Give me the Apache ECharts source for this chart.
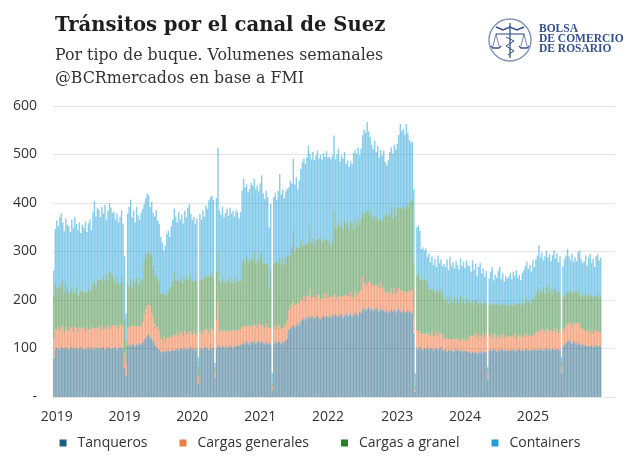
<!DOCTYPE html>
<html>
<head>
<meta charset="utf-8">
<title>Tránsitos por el canal de Suez</title>
<script src="https://cdn.jsdelivr.net/npm/echarts@6/dist/echarts.min.js"></script>
<style>
	html, body { margin: 0; padding: 0; background: #fff; }
	#chart { width: 640px; height: 462px; }
</style>
</head>
<body>
<div id="chart"></div>
<script>
// Tanqueros (volumen semanal)
var tanqueros = [
	80, 98, 102, 100, 97, 104, 101, 99, 103, 100,
	98, 101, 104, 99, 100, 102, 97, 101, 103, 99,
	100, 98, 102, 100, 104, 99, 101, 97, 103, 100,
	102, 99, 101, 104, 98, 100, 103, 101, 99, 102,
	100, 104, 98, 101, 103, 99, 102, 60, 45,
	105, 108, 104, 110, 107, 103, 109, 106, 111, 108, 112,
	118, 122, 126, 130, 124, 120, 116, 108, 104, 100, 98,
	94, 92, 96, 93, 95, 97, 94, 96, 98, 95,
	97, 100, 96, 99, 101, 98, 102, 97, 100, 99, 103, 98, 101, 96, 100, 28,
	99, 102, 98, 101, 104, 100, 97, 103, 99, 101, 40, 100, 108,
	104, 101, 106, 103, 99, 105, 102, 107, 104, 100, 106, 103, 108, 105,
	107, 110, 113, 109, 115, 111, 108, 114, 112, 116, 110, 113, 117, 111, 115,
	112, 109, 114, 110, 113, 108, 14,
	110, 114, 111, 116, 113, 109, 115, 112, 118, 120,
	138, 142, 146, 150, 144, 148, 152, 147, 155,
	160, 164, 158, 166, 162, 168, 163, 167, 161, 165, 169, 164, 160, 166, 170, 163, 167, 165,
	168, 164, 170, 166, 172, 167, 165, 171, 169, 163, 168, 174, 166, 170, 172, 165, 169, 175, 171, 168, 176, 173,
	180, 184, 178, 182, 186, 179, 183, 177, 181, 185, 179, 176, 182, 180, 178,
	175, 179, 173, 177, 181, 176, 180, 174, 178, 182, 177, 175, 179, 173, 176, 180, 174, 177, 172, 130, 10,
	102, 98, 104, 100, 97, 101, 99, 103, 98, 100, 102, 96, 99, 101, 97, 100, 103, 98,
	96, 99, 94, 97, 95, 98, 93, 96, 99, 95, 97, 94, 98, 92, 96, 95, 93,
	92, 90, 94, 91, 93, 89, 92, 95, 90, 93, 91, 94, 35,
	96, 98, 95, 99, 97, 94, 98, 96, 99, 97, 95, 98, 96,
	97, 95, 99, 96, 98, 94, 97, 99, 96, 98, 95, 97, 100, 96, 98, 95, 99, 97,
	98, 96, 100, 97, 99, 95, 98, 101, 97, 99, 96, 100, 98, 97, 99, 96, 98, 49,
	104, 108, 112, 115, 118, 114, 110, 116, 112, 108, 113, 110, 106, 109,
	105, 108, 103, 106, 104, 107, 102, 105, 108, 103, 106, 104
];
// Cargas generales
var cargasGenerales = [
	40, 42, 36, 45, 38, 41, 47, 35, 43, 39,
	37, 44, 39, 35, 46, 40, 36, 42, 38, 45,
	41, 36, 44, 39, 35, 47, 40, 45, 38, 43,
	44, 39, 47, 36, 42, 45, 38, 48, 41, 46,
	48, 42, 50, 39, 46, 52, 44, 30, 20,
	38, 35, 42, 37, 40, 44, 36, 41, 34, 39, 43,
	52, 58, 62, 60, 64, 55, 50, 44, 40, 45, 38,
	28, 25, 30, 22, 27, 24, 31, 26, 29, 33,
	30, 34, 28, 36, 31, 27, 35, 32, 29, 37, 33, 30, 38, 34, 31, 14,
	33, 36, 31, 38, 35, 40, 34, 37, 42, 36, 10, 60, 92,
	32, 36, 29, 34, 38, 30, 35, 28, 33, 37, 31, 35, 29, 34,
	33, 36, 32, 38, 30, 35, 39, 31, 36, 33, 37, 30, 34, 38, 32,
	36, 32, 38, 34, 30, 35, 6,
	30, 34, 28, 33, 36, 31, 27, 35, 32, 38,
	40, 44, 48, 52, 45, 43, 50, 46, 48,
	40, 44, 38, 42, 47, 55, 41, 39, 45, 37, 43, 48, 42, 36, 44, 40, 46, 38,
	38, 42, 36, 44, 40, 35, 43, 39, 37, 45, 41, 36, 42, 38, 44, 40, 37, 43, 39, 45, 41, 47,
	68, 50, 55, 48, 52, 57, 46, 53, 49, 44, 51, 47, 54, 45, 50,
	40, 36, 44, 38, 42, 35, 45, 39, 37, 43, 41, 46, 38, 44, 40, 36, 47, 42, 50, 35, 6,
	35, 38, 32, 30, 34, 28, 33, 29, 31, 27, 34, 30, 26, 32, 29, 35, 28, 31,
	24, 20, 27, 22, 25, 19, 28, 23, 21, 26, 18, 24, 22, 27, 20, 25, 23,
	34, 38, 31, 36, 40, 33, 37, 29, 35, 39, 32, 36, 18,
	28, 32, 26, 30, 34, 27, 31, 25, 29, 33, 26, 30, 28,
	27, 31, 25, 29, 33, 26, 30, 28, 32, 25, 29, 34, 27, 31, 26, 30, 28, 33,
	36, 40, 34, 42, 38, 45, 35, 39, 43, 37, 41, 34, 44, 38, 42, 36, 40, 13,
	30, 34, 36, 38, 32, 40, 35, 37, 41, 45, 39, 42, 36, 33,
	32, 28, 35, 30, 26, 33, 29, 34, 27, 31, 28, 30
];
// Cargas a granel
var cargasGranel = [
	90, 95, 88, 80, 92, 86, 94, 82, 89, 84,
	78, 72, 85, 80, 70, 83, 76, 68, 81, 74,
	76, 82, 71, 85, 79, 74, 92, 96, 88, 99,
	96, 104, 92, 110, 99, 107, 101, 112, 116, 105,
	95, 88, 101, 92, 84, 97, 90, 70, 50,
	92, 85, 98, 80, 95, 88, 101, 83, 90, 97, 86,
	112, 115, 108, 110, 106, 118, 104, 100, 108, 96, 102,
	92, 96, 88, 94, 90, 98, 101, 105, 110, 130,
	112, 106, 118, 102, 115, 109, 104, 120, 113, 108, 117, 111, 100, 114, 107, 20,
	110, 104, 115, 108, 112, 106, 120, 111, 117, 109, 10, 100, 100,
	104, 98, 110, 101, 96, 108, 103, 112, 99, 106, 97, 109, 102, 100,
	100, 132, 140, 128, 145, 136, 130, 142, 134, 148, 127, 139, 133, 144, 150,
	128, 135, 124, 131, 80, 120, 8,
	136, 130, 142, 128, 139, 133, 145, 127, 138, 134,
	112, 108, 116, 141, 110, 118, 106, 114, 120,
	112, 105, 118, 110, 108, 131, 114, 120, 109, 122, 111, 116, 125, 118, 107, 121, 113, 119,
	112, 106, 115, 175, 140, 148, 154, 142, 150, 138, 156, 145, 151, 137, 147, 153, 140, 149, 144, 152, 139, 148,
	132, 142, 148, 156, 139, 150, 136, 143, 140, 147, 135, 144, 131, 138, 142,
	160, 166, 155, 163, 170, 158, 167, 161, 174, 168, 172, 165, 178, 170, 176, 182, 171, 186, 183, 110, 8,
	112, 118, 105, 112, 108, 116, 110, 106, 95, 93, 87, 95, 89, 84, 96, 82, 90, 86,
	82, 78, 86, 74, 90, 80, 76, 88, 72, 84, 79, 91, 75, 83, 77, 85, 80,
	70, 66, 74, 62, 68, 75, 64, 71, 67, 60, 73, 65, 5,
	66, 60, 72, 64, 58, 70, 62, 68, 61, 65, 71, 59, 67,
	66, 62, 70, 64, 59, 72, 65, 68, 61, 74, 67, 63, 76, 69, 72, 65, 78, 70,
	78, 84, 90, 75, 82, 88, 79, 86, 92, 80, 85, 77, 83, 89, 76, 84, 81, 10,
	72, 66, 70, 62, 68, 64, 71, 60, 67, 63, 69, 58, 65, 70,
	72, 78, 68, 75, 80, 70, 76, 69, 74, 79, 71, 73
];
// Containers
var containers = [
	51, 112, 138, 127, 143, 148, 118, 126, 133, 132,
	139, 123, 138, 134, 155, 132, 136, 149, 116, 137,
	132, 146, 123, 134, 148, 124, 148, 166, 143, 148,
	144, 129, 152, 128, 158, 114, 142, 139, 134, 126,
	139, 131, 129, 128, 138, 137, 121, 130, 57,
	143, 164, 163, 143, 142, 125, 146, 145, 130, 136, 147,
	116, 115, 124, 116, 98, 109, 110, 120, 133, 123, 119,
	116, 105, 88, 103, 124, 124, 104, 125, 128, 130,
	133, 120, 139, 129, 129, 124, 143, 121, 148, 154, 125, 126, 132, 113, 130, 21,
	136, 124, 141, 125, 144, 142, 154, 161, 157, 160, 10, 150, 214,
	145, 141, 147, 133, 147, 145, 134, 143, 142, 141, 138, 139, 142, 129,
	141, 148, 165, 157, 148, 140, 152, 154, 153, 153, 154, 154, 140, 147, 160,
	144, 132, 150, 137, 127, 135, 22,
	136, 142, 125, 148, 172, 145, 141, 136, 136, 138,
	142, 151, 130, 148, 139, 144, 120, 140, 147,
	173, 179, 167, 176, 201, 148, 172, 179, 173, 174, 185, 164, 173, 169, 182, 171, 181, 172,
	177, 178, 177, 154, 138, 150, 150, 133, 142, 146, 140, 126, 129, 129, 123, 122, 157, 143, 147, 150, 142, 144,
	160, 176, 164, 181, 171, 150, 155, 139, 159, 129, 153, 127, 143, 135, 138,
	110, 97, 116, 127, 122, 133, 128, 136, 133, 147, 173, 162, 157, 153, 171, 147, 138, 120, 122, 154, 25,
	101, 100, 102, 63, 70, 57, 64, 51, 72, 58, 67, 51, 71, 51, 70, 59, 63, 55,
	73, 71, 77, 69, 79, 73, 81, 58, 89, 67, 69, 77, 75, 77, 73, 77, 75,
	74, 64, 83, 73, 74, 53, 75, 82, 63, 73, 52, 65, 4,
	55, 68, 75, 47, 63, 55, 69, 79, 54, 60, 46, 63, 53,
	58, 67, 49, 69, 60, 69, 54, 57, 52, 59, 71, 76, 76, 68, 76, 68, 77, 68,
	72, 72, 89, 74, 79, 54, 78, 75, 55, 79, 58, 81, 77, 62, 79, 62, 71, 11,
	64, 77, 74, 90, 72, 64, 79, 65, 68, 64, 77, 92, 77, 64,
	71, 78, 64, 77, 85, 66, 78, 60, 81, 81, 77, 80
];

var serieNames = ['Tanqueros', 'Cargas generales', 'Cargas a granel', 'Containers'];
var yTicks = [0, 100, 200, 300, 400, 500, 600];
// posiciones (indice de semana) donde va una etiqueta de año
var labelIdx = [2, 47, 92, 137, 182, 228, 273, 318];

// semanas desde 2019-01-01 (el eje sigue unas semanas mas que los datos)
var semanas = [];
var t0 = Date.UTC(2019, 0, 1);
for(var i = 0; i < tanqueros.length + 9; i++) {
	semanas.push(new Date(t0 + i * 7 * 86400000).toISOString().slice(0, 10));
}

var colores = ['#1f5f80', '#f07c46', '#287d2d', '#1e9ed8'];
var alfas = [0.56, 0.64, 0.52, 0.54];

function rgba(hex, a) {
	var n = parseInt(hex.slice(1), 16);
	return 'rgba(' + (n >> 16) + ',' + ((n >> 8) & 255) + ',' + (n & 255) + ',' + a + ')';
}

var valores = [tanqueros, cargasGenerales, cargasGranel, containers];
var series = [];
for(var s = 0; s < valores.length; s++) {
	series.push({
		name: serieNames[s],
		type: 'bar',
		stack: 'total',
		barCategoryGap: '8%',
		itemStyle: { color: rgba(colores[s], alfas[s]) },
		emphasis: { disabled: true },
		data: valores[s]
	});
}

var sans = '"Open Sans", "Noto Sans", sans-serif';
var navy = '#34508a';

var myChart = echarts.init(document.getElementById('chart'));
var option = {
	animation: false,
	backgroundColor: '#fff',
	title: {
		text: 'Tránsitos por el canal de Suez',
		subtext: 'Por tipo de buque. Volumenes semanales\n@BCRmercados en base a FMI',
		left: 50,
		top: 11,
		itemGap: 8,
		textStyle: {
			fontFamily: '"DejaVu Serif", serif',
			fontSize: 19.6,
			fontWeight: 'bold',
			color: '#1e1e1e'
		},
		subtextStyle: {
			fontFamily: '"DejaVu Serif", serif',
			fontSize: 15.8,
			color: '#333',
			lineHeight: 23
		}
	},
	grid: {
		left: 53,
		right: 25,
		top: 106,
		bottom: 65
	},
	legend: {
		bottom: 7,
		left: 'center',
		itemWidth: 7,
		itemHeight: 7,
		itemGap: 32,
		icon: 'rect',
		selectedMode: false,
		textStyle: { fontFamily: sans, fontSize: 14, color: '#333', padding: [0, 0, 0, 6] },
		data: serieNames.map(function(n, k) {
			return { name: n, itemStyle: { color: colores[k], opacity: 1 } };
		})
	},
	xAxis: {
		type: 'category',
		data: semanas,
		axisLine: { show: false },
		axisTick: { show: false },
		axisLabel: {
			interval: function(idx) {
				return labelIdx.indexOf(idx) >= 0;
			},
			formatter: function(v) {
				return v.slice(0, 4);
			},
			margin: 13,
			fontFamily: sans,
			fontSize: 14,
			color: '#333'
		}
	},
	yAxis: {
		type: 'value',
		min: yTicks[0],
		max: yTicks[yTicks.length - 1],
		interval: 100,
		axisLabel: {
			margin: 16,
			fontFamily: sans,
			fontSize: 14,
			color: '#333',
			formatter: function(v) {
				return v === 0 ? '-' : v;
			}
		},
		splitLine: { lineStyle: { color: '#e4e4e4', width: 1 } }
	},
	graphic: [{
		type: 'circle',
		shape: { cx: 510, cy: 40, r: 21 },
		style: { fill: 'none', stroke: '#7f93b8', lineWidth: 1.4 }
	}, {
		type: 'polyline',
		shape: { points: [[510, 23], [510, 58]] },
		style: { stroke: navy, lineWidth: 1.3 }
	}, {
		type: 'polyline',
		shape: { points: [[496, 34], [524, 34]] },
		style: { stroke: navy, lineWidth: 1.1 }
	}, {
		type: 'polyline',
		shape: { points: [[493, 46], [496, 34], [499, 46]] },
		style: { stroke: navy, lineWidth: 0.7, fill: 'none' }
	}, {
		type: 'polyline',
		shape: { points: [[521, 46], [524, 34], [527, 46]] },
		style: { stroke: navy, lineWidth: 0.7, fill: 'none' }
	}, {
		type: 'polyline',
		shape: { points: [[491, 46], [493, 48], [499, 48], [501, 46]] },
		style: { stroke: navy, lineWidth: 1.3, fill: 'none' }
	}, {
		type: 'polyline',
		shape: { points: [[519, 46], [521, 48], [527, 48], [529, 46]] },
		style: { stroke: navy, lineWidth: 1.3, fill: 'none' }
	}, {
		type: 'polyline',
		shape: { points: [[496, 27], [503, 30], [510, 27], [517, 30], [524, 27]] },
		style: { stroke: navy, lineWidth: 1.5, fill: 'none' }
	}, {
		type: 'polyline',
		shape: { points: [[506, 37], [514, 41], [506, 46], [514, 51], [508, 55]] },
		style: { stroke: navy, lineWidth: 1, fill: 'none' }
	}, {
		type: 'text',
		left: 539,
		top: 23,
		style: {
			text: 'BOLSA\nDE COMERCIO\nDE ROSARIO',
			fontFamily: '"Liberation Serif", serif',
			fontSize: 11.5,
			fontWeight: 'bold',
			lineHeight: 10.2,
			fill: navy
		}
	}],
	series: series
};
myChart.setOption(option);
window.onresize = myChart.resize;
</script>
</body>
</html>
